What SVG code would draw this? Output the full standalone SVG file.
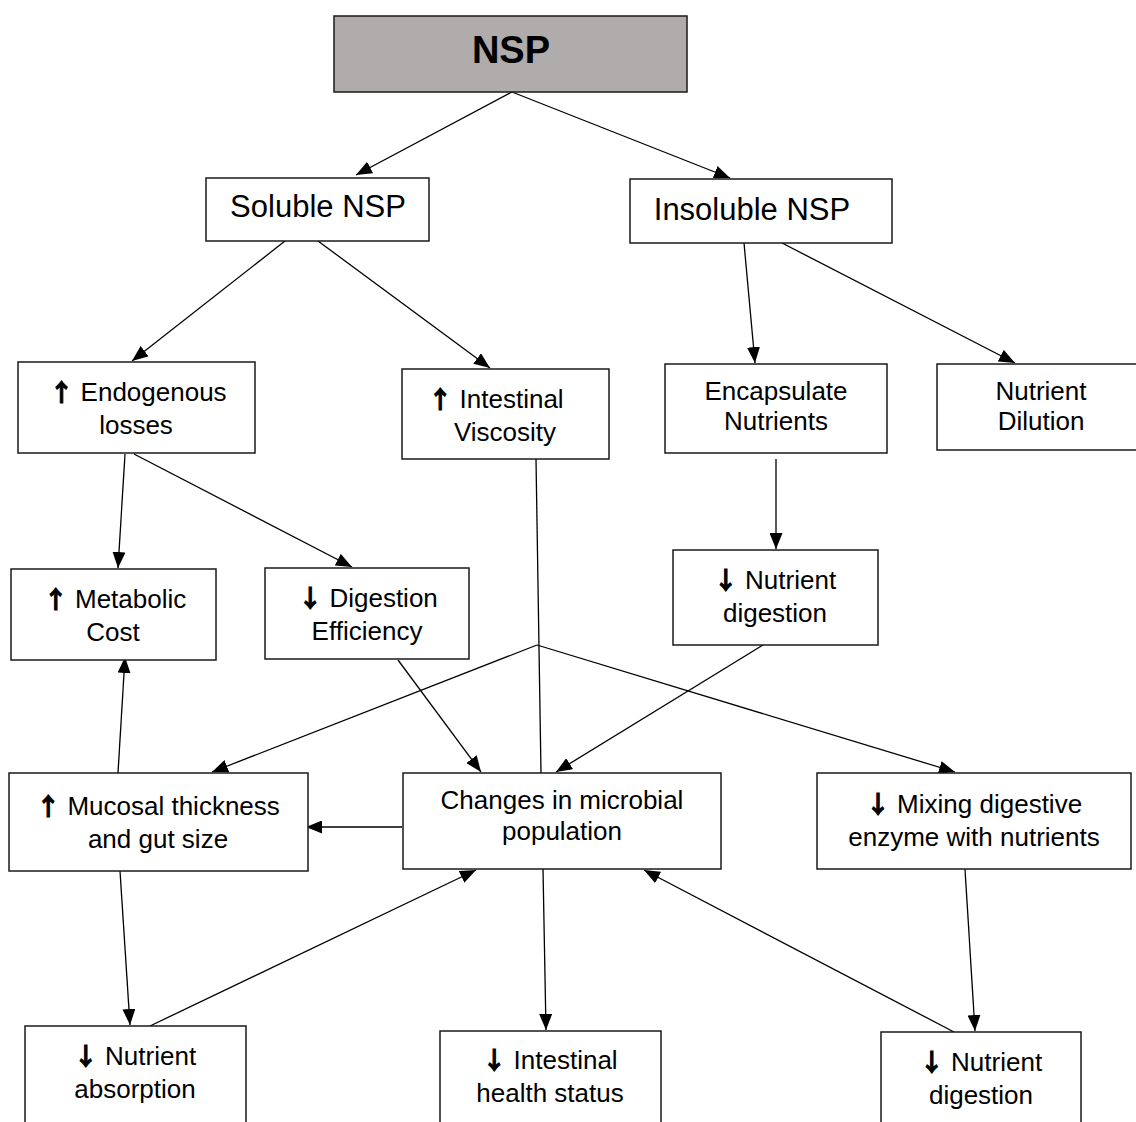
<svg xmlns="http://www.w3.org/2000/svg" width="1136" height="1122" viewBox="0 0 1136 1122">
<defs>
<marker id="ah" viewBox="0 0 16 13" refX="16" refY="6.5" markerWidth="16" markerHeight="13" markerUnits="userSpaceOnUse" orient="auto">
<path d="M0,0 L16,6.5 L0,13 z" fill="#000"/>
</marker>
<style>
.box{fill:#fff;stroke:#1a1a1a;stroke-width:1.5}
.t{font-family:"Liberation Sans",Arial,sans-serif;font-size:26px;fill:#000;text-anchor:middle}
.big{font-size:31px}
.ar{font-family:"Noto Sans CJK SC","DejaVu Sans",sans-serif;font-weight:bold;font-size:24px;stroke:#000;stroke-width:1}
.c line{stroke:#000;stroke-width:1.3;fill:none}
.a{marker-end:url(#ah)}
</style>
</defs>
<rect width="1136" height="1122" fill="#fff"/>

<g id="connectors" class="c">
<line class="a" x1="512" y1="92" x2="356" y2="175"/>
<line class="a" x1="512" y1="92" x2="730" y2="178"/>
<line class="a" x1="285" y1="241" x2="132" y2="361"/>
<line class="a" x1="318" y1="241" x2="490" y2="368"/>
<line class="a" x1="744" y1="243" x2="755" y2="363"/>
<line class="a" x1="782" y1="243" x2="1015" y2="363"/>
<line class="a" x1="125" y1="454" x2="118" y2="568"/>
<line class="a" x1="134" y1="454" x2="352" y2="567"/>
<line class="a" x1="776" y1="459" x2="776" y2="549"/>
<line x1="536" y1="459" x2="541" y2="773"/>
<line class="a" x1="537" y1="645" x2="212" y2="772"/>
<line class="a" x1="537" y1="645" x2="955" y2="772"/>
<line class="a" x1="398" y1="660" x2="481" y2="772"/>
<line class="a" x1="763" y1="645" x2="556" y2="772"/>
<line class="a" x1="118" y1="773" x2="125" y2="657"/>
<line class="a" x1="402" y1="827" x2="306" y2="827"/>
<line class="a" x1="120" y1="871" x2="130" y2="1025"/>
<line class="a" x1="150" y1="1026" x2="476" y2="870"/>
<line class="a" x1="543" y1="869" x2="546" y2="1030"/>
<line class="a" x1="954" y1="1032" x2="644" y2="870"/>
<line class="a" x1="965" y1="869" x2="975" y2="1031"/>
</g>

<g id="nsp">
<rect x="334" y="16" width="353" height="76" fill="#b0acab" stroke="#1a1a1a" stroke-width="1.5"/>
<text class="t" x="511" y="63" style="font-size:38px;font-weight:bold">NSP</text>
</g>
<g id="soluble">
<rect class="box" x="206" y="178" width="223" height="63"/>
<text class="t big" x="318" y="217">Soluble NSP</text>
</g>
<g id="insoluble">
<rect class="box" x="630" y="179" width="262" height="64"/>
<text class="t big" x="752" y="220">Insoluble NSP</text>
</g>
<g id="endogenous">
<rect class="box" x="18" y="362" width="237" height="91"/>
<text class="t" x="138" y="401"><tspan class="ar">↑</tspan> Endogenous</text>
<text class="t" x="136" y="434">losses</text>
</g>
<g id="viscosity">
<rect class="box" x="402" y="369" width="207" height="90"/>
<text class="t" x="496" y="408"><tspan class="ar">↑</tspan> Intestinal</text>
<text class="t" x="505" y="441">Viscosity</text>
</g>
<g id="encapsulate">
<rect class="box" x="665" y="364" width="222" height="89"/>
<text class="t" x="776" y="400">Encapsulate</text>
<text class="t" x="776" y="430">Nutrients</text>
</g>
<g id="dilution">
<rect class="box" x="937" y="364" width="205" height="86"/>
<text class="t" x="1041" y="400">Nutrient</text>
<text class="t" x="1041" y="430">Dilution</text>
</g>
<g id="metabolic">
<rect class="box" x="11" y="569" width="205" height="91"/>
<text class="t" x="115" y="608"><tspan class="ar">↑</tspan> Metabolic</text>
<text class="t" x="113" y="641">Cost</text>
</g>
<g id="digestion-eff">
<rect class="box" x="265" y="568" width="204" height="91"/>
<text class="t" x="368" y="607"><tspan class="ar">↓</tspan> Digestion</text>
<text class="t" x="367" y="640">Efficiency</text>
</g>
<g id="nutrient-digestion-mid">
<rect class="box" x="673" y="550" width="205" height="95"/>
<text class="t" x="775" y="589"><tspan class="ar">↓</tspan> Nutrient</text>
<text class="t" x="775" y="622">digestion</text>
</g>
<g id="mucosal">
<rect class="box" x="9" y="773" width="299" height="98"/>
<text class="t" x="158" y="815"><tspan class="ar">↑</tspan> Mucosal thickness</text>
<text class="t" x="158" y="848">and gut size</text>
</g>
<g id="microbial">
<rect class="box" x="403" y="773" width="318" height="96"/>
<text class="t" x="562" y="809">Changes in microbial</text>
<text class="t" x="562" y="840">population</text>
</g>
<g id="mixing">
<rect class="box" x="817" y="773" width="314" height="96"/>
<text class="t" x="974" y="813"><tspan class="ar">↓</tspan> Mixing digestive</text>
<text class="t" x="974" y="846">enzyme with nutrients</text>
</g>
<g id="absorption">
<rect class="box" x="25" y="1026" width="221" height="110"/>
<text class="t" x="135" y="1065"><tspan class="ar">↓</tspan> Nutrient</text>
<text class="t" x="135" y="1098">absorption</text>
</g>
<g id="health">
<rect class="box" x="440" y="1031" width="221" height="110"/>
<text class="t" x="550" y="1069"><tspan class="ar">↓</tspan> Intestinal</text>
<text class="t" x="550" y="1102">health status</text>
</g>
<g id="nutrient-digestion-bottom">
<rect class="box" x="881" y="1032" width="200" height="110"/>
<text class="t" x="981" y="1071"><tspan class="ar">↓</tspan> Nutrient</text>
<text class="t" x="981" y="1104">digestion</text>
</g>
</svg>
